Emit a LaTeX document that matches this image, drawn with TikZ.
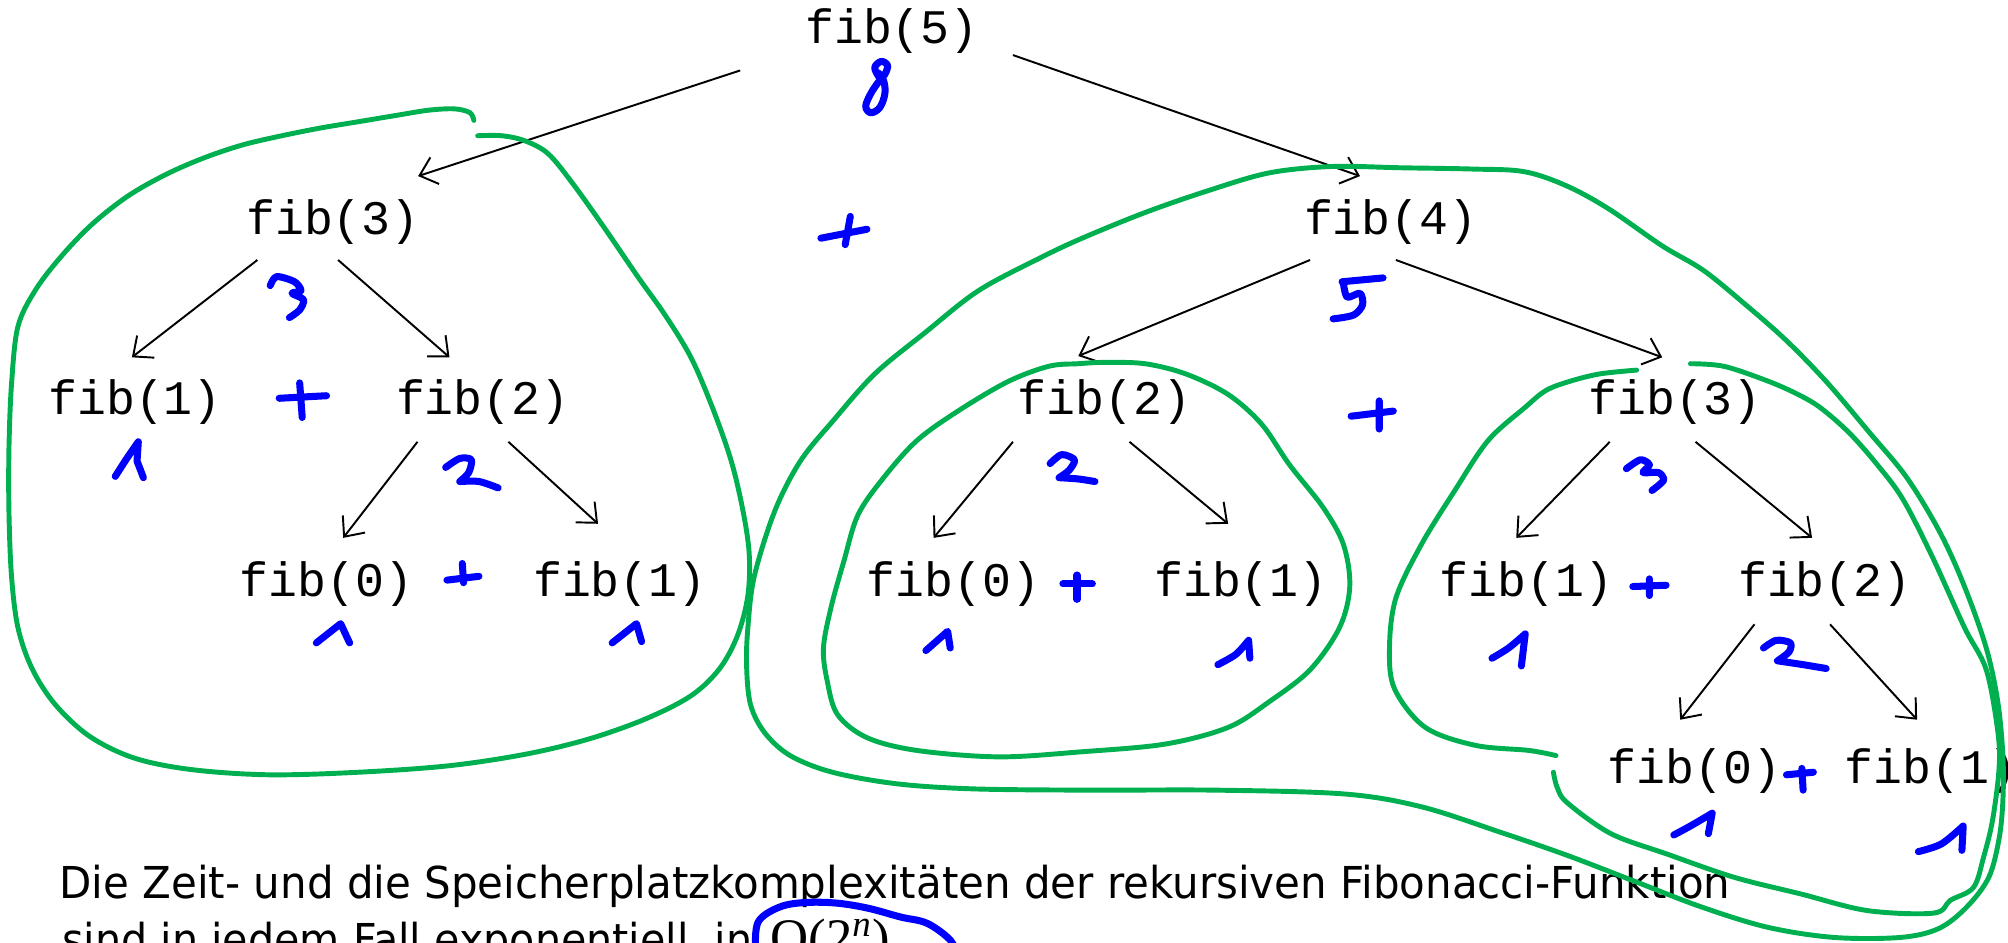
\documentclass[tikz,border=0pt]{standalone}
\usepackage{graphicx}
\usepackage{fontspec}
\setmainfont{DejaVu Sans}
\newfontfamily\fibfont{Liberation Mono}
\newfontfamily\formelfont{Liberation Serif}
\usetikzlibrary{arrows.meta}
\definecolor{schleife}{RGB}{0,176,80}
\definecolor{tinte}{RGB}{0,0,255}

\begin{document}
\begin{tikzpicture}[x=0.128mm, y=-0.128mm,
		fib/.style={anchor=base, inner sep=0pt, font=\fibfont\fontsize{13.7}{16}\selectfont},
		pfeil/.style={-{Straight Barb[length=1.6mm,width=2.8mm]}, line width=0.55pt},
		gruen/.style={draw=schleife, line width=1.4pt, line cap=round, line join=round},
		blau/.style={draw=tinte, line width=2pt, line cap=round, line join=round}]
		\useasboundingbox (0,0) rectangle (1568,736.3);
		
		% 递归树的结点
		\node[fib] (f5) at (696.5,34) {fib(5)};
		\node[fib] (f3) at (260,183) {fib(3)};
		\node[fib] (f4) at (1086,183) {fib(4)};
		\node[fib] (f1a) at (105.5,324) {fib(1)};
		\node[fib] (f2a) at (377,324) {fib(2)};
		\node[fib] (f2b) at (862.5,324) {fib(2)};
		\node[fib] (f3b) at (1308,324) {fib(3)};
		\node[fib] (f0a) at (255,466) {fib(0)};
		\node[fib] (f1b) at (484,466) {fib(1)};
		\node[fib] (f0b) at (744.5,466) {fib(0)};
		\node[fib] (f1c) at (969,466) {fib(1)};
		\node[fib] (f1d) at (1192,466) {fib(1)};
		\node[fib] (f2c) at (1425,466) {fib(2)};
		\node[fib] (f0c) at (1323,612) {fib(0)};
		\node[fib] (f1e) at (1508,612) {fib(1)};
		
		% 箭头
		\draw[pfeil] ([shift={(-118.5,21)}]f5.base) -- ([shift={(66.5,-45.5)}]f3.base);
		\draw[pfeil] ([shift={(94.5,9)}]f5.base) -- ([shift={(-24,-45.5)}]f4.base);
		\draw[pfeil] ([shift={(-59,20)}]f3.base) -- ([shift={(-2.5,-45)}]f1a.base);
		\draw[pfeil] ([shift={(4,20)}]f3.base) -- ([shift={(-26,-45)}]f2a.base);
		\draw[pfeil] ([shift={(-51,21)}]f2a.base) -- ([shift={(13,-46)}]f0a.base);
		\draw[pfeil] ([shift={(20,21)}]f2a.base) -- ([shift={(-17,-57)}]f1b.base);
		\draw[pfeil] ([shift={(-63,20)}]f4.base) -- ([shift={(-20.5,-46)}]f2b.base);
		\draw[pfeil] ([shift={(4,20)}]f4.base) -- ([shift={(-10,-45)}]f3b.base);
		\draw[pfeil] ([shift={(-71.5,21)}]f2b.base) -- ([shift={(-15.5,-46)}]f0b.base);
		\draw[pfeil] ([shift={(19.5,21)}]f2b.base) -- ([shift={(-10,-57)}]f1c.base);
		\draw[pfeil] ([shift={(-51,21)}]f3b.base) -- ([shift={(-8,-46)}]f1d.base);
		\draw[pfeil] ([shift={(16,21)}]f3b.base) -- ([shift={(-10,-46)}]f2c.base);
		\draw[pfeil] ([shift={(-55,21.5)}]f2c.base) -- ([shift={(-11,-50)}]f0c.base);
		\draw[pfeil] ([shift={(4,21.5)}]f2c.base) -- ([shift={(-11,-50)}]f1e.base);
		
		% 下方的文字
		\node[anchor=base west, inner sep=0pt] (zeile1) at (46,701.6) {\resizebox{167mm}{\height}{\fontsize{12.5}{15}\selectfont Die Zeit- und die Speicherplatzkomplexitäten der rekursiven Fibonacci-Funktion}};
		\node[anchor=base west, inner sep=0pt] (zeile2) at (48,746) {\resizebox{69mm}{\height}{\fontsize{12.5}{15}\selectfont sind in jedem Fall exponentiell, in}};
		\node[anchor=base west, inner sep=0pt, font=\formelfont\fontsize{15}{18}\selectfont] (formel) at (601,746) {O(2\textsuperscript{\itshape n})};
		
		% 绿色的圈
		\draw[gruen] plot[smooth, tension=0.55] coordinates {(370,94) (367,88) (355,85) (335,86) (310,90) (280,95) (250,100) (220,106) (190,113) (160,123) (130,136) (100,153) (72,175) (48,200) (28,226) (14,255) (9,300) (7,350) (7,400) (9,450) (14,490) (25,522) (43,550) (70,575) (105,592) (150,601) (210,605) (280,603) (350,598) (410,589) (460,577) (505,561) (540,543) (562,522) (576,496) (584,465) (585,432) (580,398) (571,360) (557,320) (540,280) (520,247) (498,216) (472,178) (447,143) (428,120) (410,110) (392,106) (373,106)};
		\draw[gruen] plot[smooth cycle, tension=0.55] coordinates {(991,135) (1040,130) (1094,131) (1150,132) (1190,134) (1223,145) (1256,163) (1298,192) (1330,211) (1362,237) (1395,266) (1427,299) (1460,338) (1489,373) (1515,416) (1534,458) (1551,506) (1560,548) (1564,590) (1564,625) (1561,655) (1553,685) (1536,708) (1514,725) (1484,732) (1432,732) (1380,724) (1328,708) (1276,688) (1224,668) (1172,650) (1110,630) (1050,620) (950,617) (850,617) (760,616) (700,612) (650,603) (617,590) (597,572) (586,550) (583,520) (584,490) (589,450) (605,399) (625,360) (651,328) (683,292) (722,260) (764,227) (813,201) (845,186) (894,166) (943,149)};
		\draw[gruen] plot[smooth cycle, tension=0.55] coordinates {(842,284) (862,283) (894,284) (926,292) (959,308) (985,331) (1007,363) (1033,396) (1049,425) (1054,458) (1046,490) (1023,523) (991,548) (959,568) (910,581) (845,587) (780,591) (716,586) (677,576) (654,558) (646,532) (643,506) (649,474) (659,438) (670,402) (690,373) (716,344) (748,321) (787,298) (819,286)};
		\draw[gruen] plot[smooth, tension=0.55] coordinates {(1278,289) (1249,292) (1225,298) (1207,305) (1191,318) (1162,344) (1136,383) (1110,425) (1090,467) (1085,506) (1089,538) (1113,568) (1152,582) (1194,586) (1215,590)};
		\draw[gruen] plot[smooth, tension=0.55] coordinates {(1213,603) (1216,615) (1224,627) (1258,651) (1302,667) (1354,685) (1406,698) (1458,711) (1510,713) (1523,703) (1541,693) (1549,669) (1556,640) (1561,600) (1560,571) (1551,523) (1534,490) (1509,435) (1486,390) (1466,363) (1444,338) (1421,318) (1402,307) (1379,297) (1346,286) (1320,284)};
		
		% 蓝色的手写
		\draw[blau] plot[smooth, tension=0.6] coordinates {(687,61) (683,53) (688,48) (693,51) (691,58) (686,64) (680,73) (676,83) (680,88) (687,84) (691,73) (690,63) (686,57)};
		\draw[blau] plot[smooth, tension=0.5] coordinates {(211,223) (216,216) (230,220) (235,227) (228,229) (237,234) (234,242) (226,248)};
		\draw[blau] plot[smooth, tension=0.5] coordinates {(90,372) (99,358) (108,345)} -- (107,360) -- (112,373);
		\draw[blau] plot[smooth, tension=0.5] coordinates {(348,365) (359,358) (368,359) (366,369) (359,376)} -- plot[smooth] coordinates {(359,376) (374,376) (389,381)};
		\draw[blau] (247,502) -- (266,487) -- (273,502);
		\draw[blau] (478,502) -- (497,487) -- (501,501);
		\draw[blau] (1080,217) -- (1048,220);
		\draw[blau] plot[smooth, tension=0.5] coordinates {(1049,221) (1052,232) (1062,229) (1064,238) (1057,246) (1041,249)};
		\draw[blau] plot[smooth, tension=0.5] coordinates {(820,362) (829,355) (839,359) (835,367) (827,373)} -- plot[smooth] coordinates {(827,373) (842,374) (855,376)};
		\draw[blau] (723,508) -- (740,493) -- (742,506);
		\draw[blau] plot[smooth, tension=0.5] coordinates {(951,519) (965,511) (975,500)} -- (976,514);
		\draw[blau] plot[smooth, tension=0.5] coordinates {(1270,366) (1281,359) (1288,363) (1283,369) (1295,369) (1299,375) (1290,383)};
		\draw[blau] plot[smooth, tension=0.5] coordinates {(1165,514) (1178,506) (1191,495)} -- (1188,520);
		\draw[blau] plot[smooth, tension=0.5] coordinates {(1377,506) (1387,500) (1398,502) (1397,509) (1388,516)} -- plot[smooth] coordinates {(1388,516) (1408,519) (1426,522)};
		\draw[blau] plot[smooth, tension=0.5] coordinates {(1307,652) (1320,645) (1337,635)} -- (1334,651);
		\draw[blau] plot[smooth, tension=0.5] coordinates {(1498,665) (1516,659) (1533,645)} -- (1532,664);
		% 加号
		\draw[blau] (641,186) -- (677,179) (664,169) -- (660,191);
		\draw[blau] (218,311) -- (255,309) (234,299) -- (236,326);
		\draw[blau] (349,453) -- (374,450) (361,440) -- (362,455);
		\draw[blau] (1055,325) -- (1088,321) (1077,313) -- (1077,335);
		\draw[blau] (830,456) -- (853,456) (841,449) -- (841,468);
		\draw[blau] (1275,458) -- (1301,457) (1288,452) -- (1288,465);
		\draw[blau] (1395,605) -- (1416,603) (1407,600) -- (1408,617);
		% O(2^n) 的圈
		\draw[blau] plot[smooth, tension=0.6] coordinates {(590,740) (592,720) (607,709) (625,705) (651,705) (677,709) (703,716) (724,721) (742,734) (746,744)};
	\end{tikzpicture}
\end{document}
